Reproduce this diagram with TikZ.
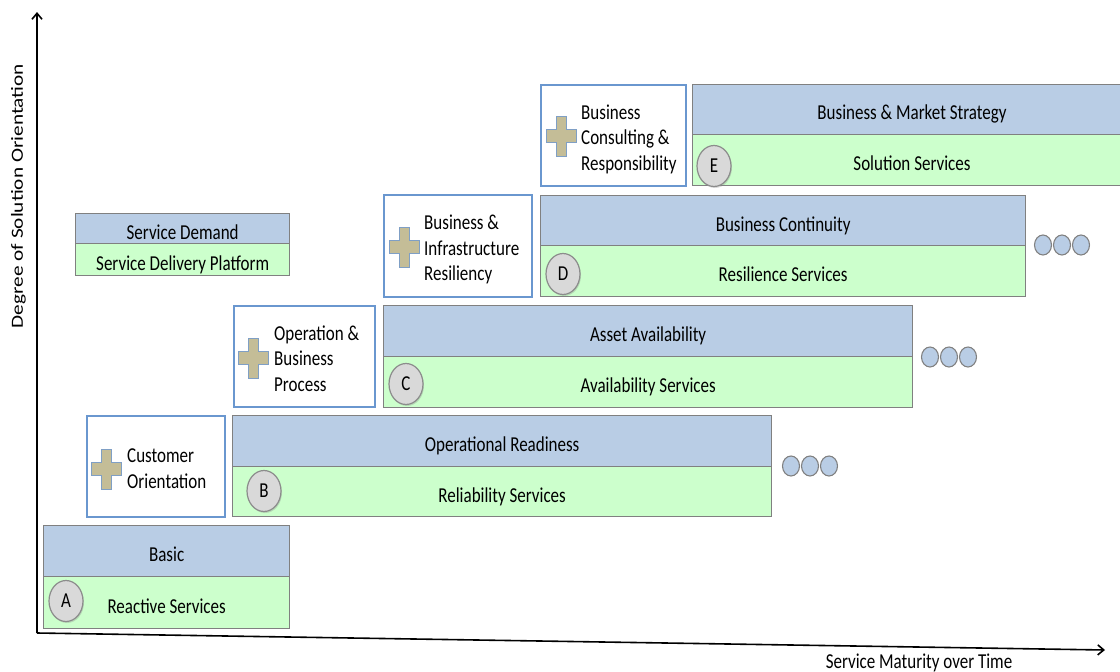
\documentclass[tikz,border=0pt]{standalone}
\usepackage{fontspec}
\setmainfont{Carlito}
\usetikzlibrary{arrows.meta,shadows,shapes.geometric}
\definecolor{barblue}{HTML}{B9CDE5}
\definecolor{bargreen}{HTML}{CCFFCC}
\definecolor{bargray}{HTML}{808080}
\definecolor{plusframe}{HTML}{6A97CF}
\definecolor{plustan}{HTML}{C4BD97}
\definecolor{plusedge}{HTML}{7F9FC5}
\definecolor{letterfill}{HTML}{D9D9D9}
\definecolor{lettergray}{HTML}{8C8C8C}
\newcommand\st[1]{\scalebox{1}[1.25]{#1}}
\newcommand\lines[1]{\st{\begin{tabular}{@{}l@{}}#1\end{tabular}}}
\tikzset{
  txt/.style={font=\fontsize{17}{20.4}\selectfont},
  bartxt/.style={txt, text height=22pt, text depth=1pt},
  bluebar/.style={bartxt, draw=bargray, line width=1.3pt, fill=barblue, anchor=north west, inner sep=0pt},
  greenbar/.style={bartxt, draw=bargray, line width=1.3pt, fill=bargreen, anchor=north west, inner sep=0pt},
  plusbox/.style={draw=plusframe, line width=1.5pt, fill=white, anchor=north west, inner sep=0pt},
  plustext/.style={txt, anchor=west, inner sep=0pt},
  letter/.style={txt, ellipse, draw=lettergray, line width=1.2pt, fill=letterfill, minimum width=34pt, minimum height=41pt, inner sep=0pt, text height=13pt, text depth=0pt, drop shadow={shadow xshift=1pt, shadow yshift=-1.5pt, opacity=0.3}},
  dotc/.style={ellipse, draw=gray, line width=1.1pt, fill=barblue, minimum width=17pt, minimum height=20pt, inner sep=0pt},
  axis/.style={line width=1.6pt, -{Straight Barb[length=6pt,width=10pt]}},
}
\newcommand\pluscross[2]{%
  \filldraw[fill=plustan, draw=plusedge, line width=1pt]
    ({#1-5},{#2-20}) -- ({#1+5},{#2-20}) -- ({#1+5},{#2-6.5}) -- ({#1+15},{#2-6.5})
    -- ({#1+15},{#2+6.5}) -- ({#1+5},{#2+6.5}) -- ({#1+5},{#2+20}) -- ({#1-5},{#2+20})
    -- ({#1-5},{#2+6.5}) -- ({#1-15},{#2+6.5}) -- ({#1-15},{#2-6.5}) -- ({#1-5},{#2-6.5}) -- cycle;}
\begin{document}
\begin{tikzpicture}[x=1pt,y=-1pt]
\useasboundingbox (0,0) rectangle (1120,672);
\clip (0,0) rectangle (1120,672);
% axes
\coordinate (O) at (37,633);
\coordinate (Ytop) at (37,12);
\coordinate (Xend) at (1105,650);
\draw[axis] (O) -- (Ytop);
\draw[axis] (O) -- (Xend);
\node[txt, rotate=90, inner sep=0pt] (ylab) at (18.5,196) {\scalebox{1.25}[1]{Degree of Solution Orientation}};
\node[txt, anchor=base, inner sep=0pt] (xlab) at (919,668) {\st{Service Maturity over Time}};

% Service demand
\node[bluebar, minimum width=214pt, minimum height=30pt] (sdT) at (75,213) {\st{Service Demand}};
\node[greenbar, minimum width=214pt, minimum height=32pt] (sdB) at (75,243) {\st{Service Delivery Platform}};

% A
\node[bluebar, minimum width=246pt, minimum height=51pt] (aT) at (43,525) {\st{Basic}};
\node[greenbar, minimum width=246pt, minimum height=52pt] (aB) at (43,576) {\st{Reactive Services}};
\node[letter] (cA) at (66,601) {\st{A}};

% B
\node[plusbox, minimum width=138pt, minimum height=101pt] (pB) at (86,415) {};
\pluscross{106}{469}
\node[plustext] (pBt) at (127,470.5) {\lines{Customer\\Orientation}};
\node[bluebar, minimum width=539pt, minimum height=51pt] (bT) at (232,415) {\st{Operational Readiness}};
\node[greenbar, minimum width=539pt, minimum height=50pt] (bB) at (232,466) {\st{Reliability Services}};
\node[letter] (cB) at (264,491) {\st{B}};
\node[dotc] (b1) at (791,466) {};
\node[dotc] (b2) at (810,466) {};
\node[dotc] (b3) at (829,466) {};

% C
\node[plusbox, minimum width=141pt, minimum height=101pt] (pC) at (233,305) {};
\pluscross{253}{358}
\node[plustext] (pCt) at (274,360.5) {\lines{Operation \&\\Business\\Process}};
\node[bluebar, minimum width=529pt, minimum height=51pt] (cT) at (383,305) {\st{Asset Availability}};
\node[greenbar, minimum width=529pt, minimum height=51pt] (cB) at (383,356) {\st{Availability Services}};
\node[letter] (cC) at (406,384) {\st{C}};
\node[dotc] (c1) at (930,357) {};
\node[dotc] (c2) at (949,357) {};
\node[dotc] (c3) at (968,357) {};

% D
\node[plusbox, minimum width=148pt, minimum height=102pt] (pD) at (383,194) {};
\pluscross{404}{247}
\node[plustext] (pDt) at (424,250) {\lines{Business \&\\Infrastructure\\Resiliency}};
\node[bluebar, minimum width=485pt, minimum height=50pt] (dT) at (540,195) {\st{Business Continuity}};
\node[greenbar, minimum width=485pt, minimum height=51pt] (dB) at (540,245) {\st{Resilience Services}};
\node[letter] (cD) at (563,274) {\st{D}};
\node[dotc] (d1) at (1043,245) {};
\node[dotc] (d2) at (1062,245) {};
\node[dotc] (d3) at (1081,245) {};

% E
\node[plusbox, minimum width=145pt, minimum height=101pt] (pE) at (540,84) {};
\pluscross{561}{136}
\node[plustext] (pEt) at (581,139.5) {\lines{Business\\Consulting \&\\Responsibility}};
\node[bluebar, minimum width=440pt, minimum height=50pt] (eT) at (692,84) {};
\node[greenbar, minimum width=440pt, minimum height=51pt] (eB) at (692,134) {};
\node[bartxt, inner sep=0pt] (eTt) at (912,109) {\st{Business \& Market Strategy}};
\node[bartxt, inner sep=0pt] (eBt) at (912,159.5) {\st{Solution Services}};
\node[letter] (cE) at (714,166) {\st{E}};
\end{tikzpicture}
\end{document}
